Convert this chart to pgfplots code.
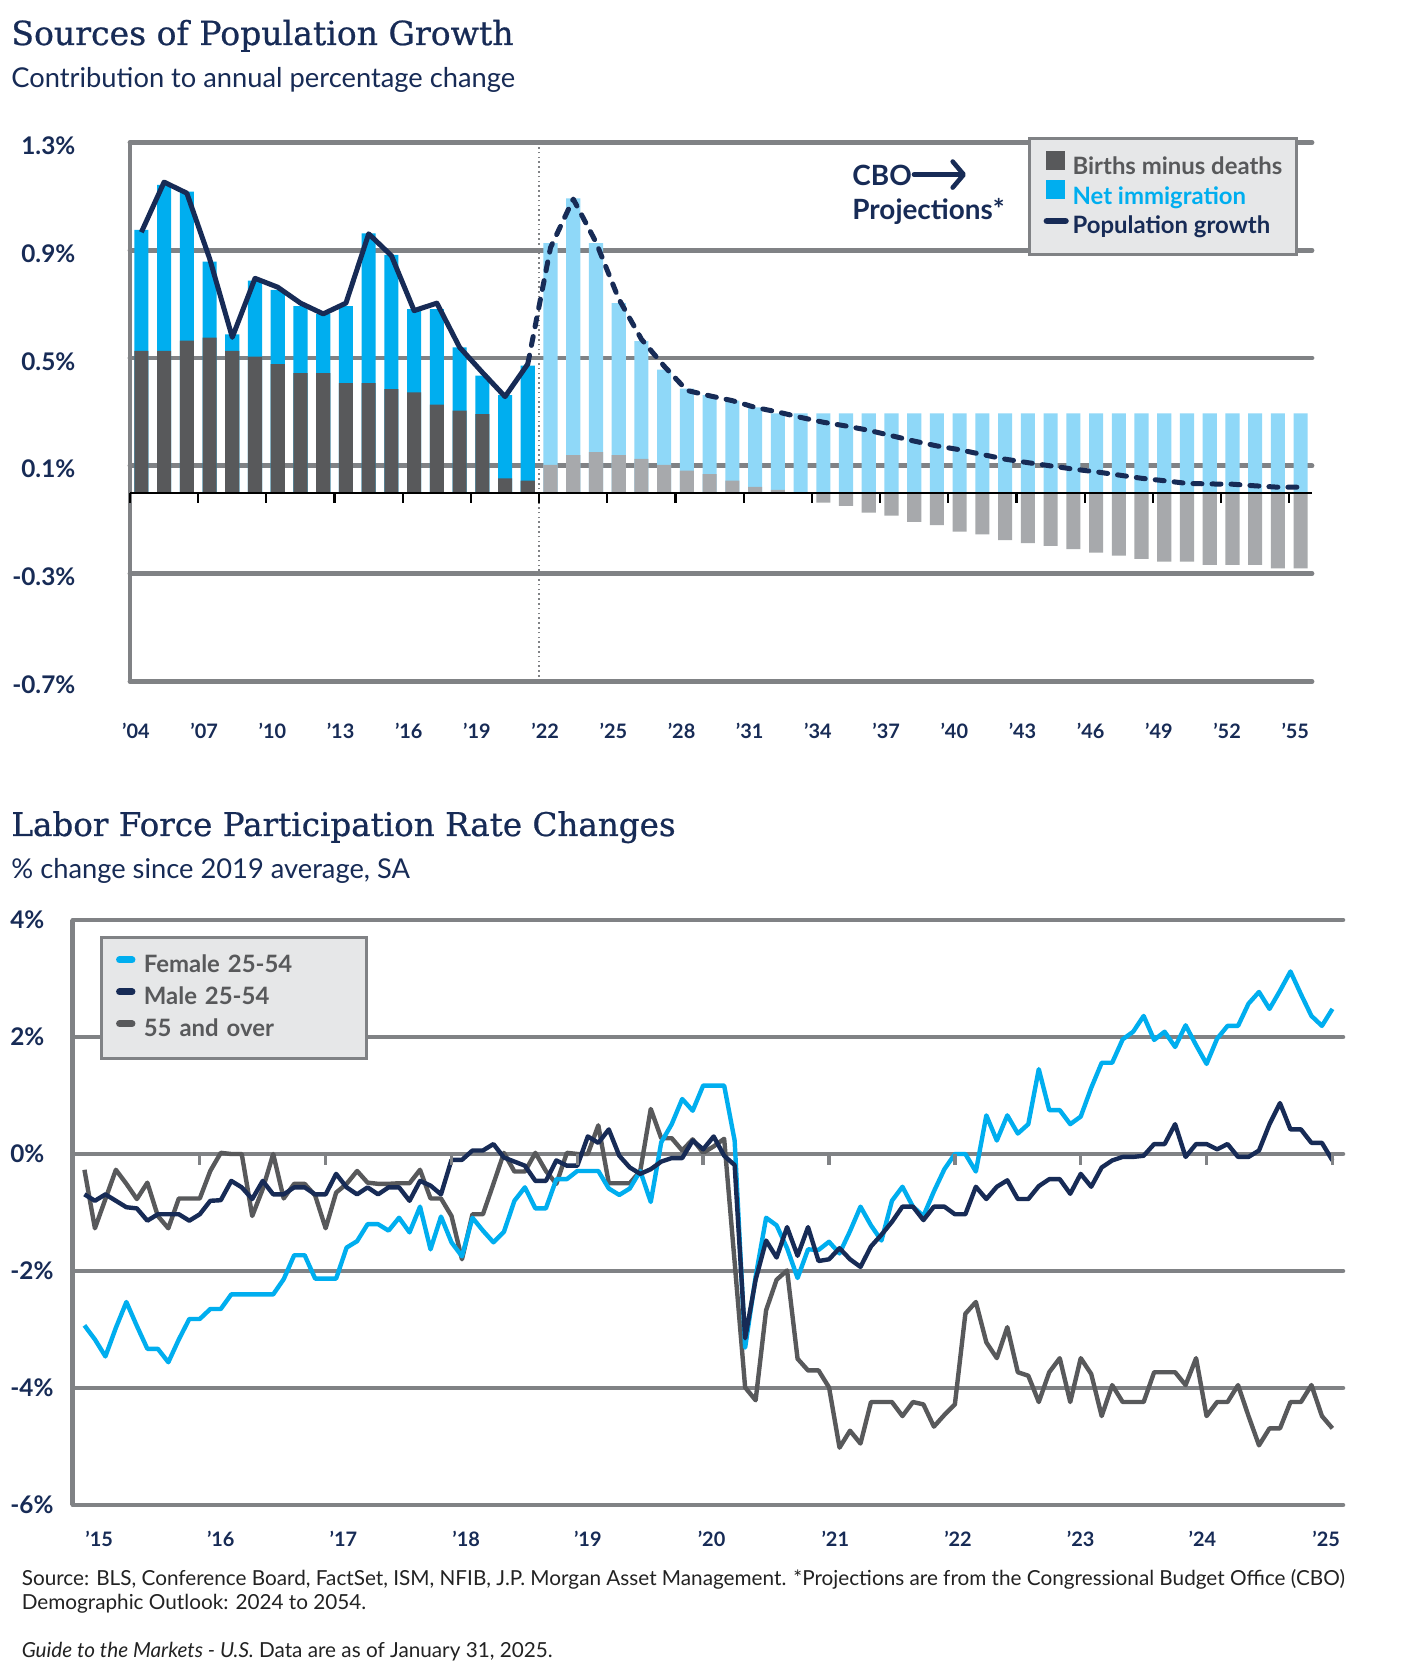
\documentclass[border=0pt]{standalone}
\usepackage{pgfplots}
\pgfplotsset{compat=1.18}
\usepackage{pgfplotstable}
\usetikzlibrary{arrows.meta}
\usepackage{fontspec}
\setmainfont{Lato}
\newfontfamily\titlefont[FakeBold=0.7]{DejaVu Serif}
\definecolor{navy}{HTML}{172B56}
\definecolor{jblue}{HTML}{00AEEF}
\definecolor{jlblue}{HTML}{8FD8F8}
\definecolor{jdgray}{HTML}{58595B}
\definecolor{jlgray}{HTML}{A7A9AC}
\definecolor{gridgray}{HTML}{808285}
\definecolor{legfill}{HTML}{E6E7E8}
\definecolor{foot}{HTML}{222222}

% historical: births minus deaths, total
\pgfplotstableread{
yr bmd tot
2004 0.527 0.976
2005 0.527 1.143
2006 0.565 1.118
2007 0.576 0.858
2008 0.527 0.588
2009 0.505 0.787
2010 0.478 0.753
2011 0.444 0.693
2012 0.444 0.664
2013 0.407 0.693
2014 0.407 0.963
2015 0.385 0.883
2016 0.373 0.682
2017 0.327 0.682
2018 0.305 0.540
2019 0.292 0.435
2020 0.054 0.363
2021 0.045 0.472
}\hist
% projections: births minus deaths, top of blue bar
\pgfplotstableread{
yr bmd blue
2022 0.104 0.927
2023 0.140 1.093
2024 0.151 0.927
2025 0.140 0.704
2026 0.126 0.563
2027 0.104 0.457
2028 0.082 0.387
2029 0.069 0.363
2030 0.045 0.342
2031 0.022 0.317
2032 0.011 0.295
2033 -0.003 0.295
2034 -0.036 0.295
2035 -0.048 0.295
2036 -0.073 0.295
2037 -0.085 0.295
2038 -0.108 0.295
2039 -0.120 0.295
2040 -0.144 0.295
2041 -0.154 0.295
2042 -0.175 0.295
2043 -0.187 0.295
2044 -0.197 0.295
2045 -0.209 0.295
2046 -0.222 0.295
2047 -0.233 0.295
2048 -0.245 0.295
2049 -0.255 0.295
2050 -0.255 0.295
2051 -0.267 0.295
2052 -0.267 0.295
2053 -0.267 0.295
2054 -0.280 0.295
2055 -0.280 0.295
}\proj
\pgfplotstableread{
yr pg
2004 0.967
2005 1.153
2006 1.112
2007 0.870
2008 0.577
2009 0.796
2010 0.763
2011 0.704
2012 0.664
2013 0.704
2014 0.961
2015 0.880
2016 0.676
2017 0.704
2018 0.540
2019 0.447
2020 0.357
2021 0.478
}\pghist
\pgfplotstableread{
yr pg
2021 0.478
2022 0.910
2023 1.090
2024 0.930
2025 0.720
2026 0.570
2027 0.470
2028 0.380
2029 0.360
2030 0.342
2031 0.317
2032 0.300
2033 0.280
2034 0.262
2035 0.248
2036 0.232
2037 0.212
2038 0.192
2039 0.174
2040 0.160
2041 0.142
2042 0.125
2043 0.112
2044 0.100
2045 0.088
2046 0.078
2047 0.066
2048 0.054
2049 0.045
2050 0.035
2051 0.033
2052 0.032
2053 0.026
2054 0.021
2055 0.021
}\pgproj
% labor force participation, month index 0 = Jan 2015
\pgfplotstableread{
m f ma o
0 -2.93 -0.69 -0.27
1 -3.17 -0.80 -1.27
2 -3.46 -0.69 -0.77
3 -2.97 -0.80 -0.27
4 -2.53 -0.91 -0.51
5 -2.94 -0.93 -0.77
6 -3.33 -1.14 -0.49
7 -3.33 -1.03 -1.06
8 -3.56 -1.03 -1.27
9 -3.17 -1.03 -0.76
10 -2.82 -1.14 -0.76
11 -2.82 -1.03 -0.76
12 -2.65 -0.80 -0.29
13 -2.65 -0.79 0.02
14 -2.40 -0.46 0.00
15 -2.40 -0.57 0.00
16 -2.40 -0.77 -1.06
17 -2.40 -0.46 -0.60
18 -2.40 -0.69 0.00
19 -2.14 -0.69 -0.76
20 -1.73 -0.57 -0.51
21 -1.73 -0.57 -0.51
22 -2.13 -0.69 -0.71
23 -2.13 -0.69 -1.27
24 -2.13 -0.34 -0.66
25 -1.60 -0.57 -0.51
26 -1.49 -0.69 -0.29
27 -1.20 -0.57 -0.49
28 -1.20 -0.69 -0.51
29 -1.31 -0.57 -0.51
30 -1.09 -0.57 -0.50
31 -1.34 -0.80 -0.50
32 -0.90 -0.46 -0.27
33 -1.63 -0.54 -0.76
34 -1.07 -0.69 -0.76
35 -1.51 -0.10 -1.06
36 -1.75 -0.10 -1.80
37 -1.09 0.06 -1.03
38 -1.31 0.06 -1.03
39 -1.51 0.17 -0.51
40 -1.33 -0.06 0.02
41 -0.80 -0.13 -0.30
42 -0.57 -0.20 -0.30
43 -0.93 -0.46 0.02
44 -0.93 -0.46 -0.29
45 -0.43 -0.11 -0.51
46 -0.43 -0.20 0.02
47 -0.29 -0.20 0.00
48 -0.29 0.30 0.00
49 -0.29 0.19 0.49
50 -0.59 0.42 -0.50
51 -0.70 -0.03 -0.50
52 -0.59 -0.23 -0.50
53 -0.29 -0.34 -0.29
54 -0.82 -0.26 0.77
55 0.20 -0.13 0.27
56 0.51 -0.07 0.27
57 0.94 -0.07 0.06
58 0.74 0.23 0.25
59 1.17 0.08 0.02
60 1.17 0.30 0.13
61 1.17 -0.03 0.26
62 0.23 -0.19 -1.85
63 -3.31 -3.15 -3.99
64 -2.10 -2.15 -4.21
65 -1.09 -1.48 -2.67
66 -1.22 -1.77 -2.15
67 -1.61 -1.25 -1.99
68 -2.12 -1.74 -3.50
69 -1.63 -1.25 -3.70
70 -1.64 -1.83 -3.70
71 -1.50 -1.80 -3.99
72 -1.70 -1.61 -5.02
73 -1.32 -1.80 -4.73
74 -0.90 -1.93 -4.95
75 -1.22 -1.58 -4.24
76 -1.48 -1.38 -4.24
77 -0.80 -1.16 -4.24
78 -0.56 -0.90 -4.48
79 -0.90 -0.90 -4.24
80 -1.06 -1.13 -4.28
81 -0.64 -0.90 -4.66
82 -0.26 -0.90 -4.46
83 0.00 -1.03 -4.28
84 0.00 -1.03 -2.73
85 -0.30 -0.56 -2.53
86 0.66 -0.77 -3.22
87 0.23 -0.56 -3.49
88 0.66 -0.45 -2.96
89 0.35 -0.77 -3.73
90 0.51 -0.77 -3.79
91 1.45 -0.55 -4.24
92 0.75 -0.43 -3.73
93 0.75 -0.43 -3.49
94 0.51 -0.68 -4.24
95 0.64 -0.34 -3.49
96 1.13 -0.56 -3.76
97 1.56 -0.23 -4.48
98 1.56 -0.11 -3.95
99 1.96 -0.05 -4.24
100 2.09 -0.05 -4.24
101 2.36 -0.03 -4.24
102 1.95 0.17 -3.73
103 2.09 0.17 -3.73
104 1.83 0.51 -3.73
105 2.20 -0.05 -3.95
106 1.86 0.17 -3.49
107 1.54 0.17 -4.48
108 1.97 0.08 -4.24
109 2.19 0.17 -4.24
110 2.19 -0.05 -3.95
111 2.57 -0.05 -4.48
112 2.77 0.06 -4.98
113 2.48 0.51 -4.69
114 2.79 0.87 -4.69
115 3.12 0.42 -4.24
116 2.73 0.42 -4.24
117 2.36 0.19 -3.95
118 2.19 0.19 -4.48
119 2.48 -0.11 -4.69
}\lfpr

\pgfplotsset{
  myaxis/.style={
    scale only axis, anchor=south west,
    axis x line*=bottom, axis y line*=left,
    x axis line style={draw=none},
    y axis line style={draw=gridgray, line width=2.4bp, -},
    tick style={draw=none}, major tick length=0pt,
    ymajorgrids,
    grid style={draw=gridgray, line width=2.4bp, line cap=round},
    yticklabel style={anchor=west, inner xsep=0pt, text=navy,
      font=\fontsize{12.2}{14}\selectfont\bfseries},
    xticklabel style={anchor=base, text=navy,
      font=\fontsize{10}{12}\selectfont\bfseries},
  },
}

\begin{document}
\begin{tikzpicture}
\fill[white] (0,0) rectangle (712.5bp,840bp);
\path[use as bounding box] (0,0) rectangle (712.5bp,840bp);

% ---------- titles ----------
\node[anchor=base west, inner sep=0pt, text=navy,
  font=\titlefont\fontsize{16.6}{19}\selectfont] at (5.5bp,817.5bp) {Sources of Population Growth};
\node[anchor=base west, inner sep=0pt, text=navy,
  font=\fontsize{13.7}{16}\selectfont] at (5.5bp,796bp) {Contribution to annual percentage change};
\node[anchor=base west, inner sep=0pt, text=navy,
  font=\titlefont\fontsize{16.35}{19}\selectfont] at (5.5bp,422bp) {Labor Force Participation Rate Changes};
\node[anchor=base west, inner sep=0pt, text=navy,
  font=\fontsize{13.7}{16}\selectfont] at (5.5bp,400.7bp) {\% change since 2019 average, SA};

% ---------- top chart ----------
\begin{axis}[myaxis,
  at={(65bp,499.25bp)}, width=591bp, height=269.5bp,
  xmin=2003.5, xmax=2055.5, ymin=-0.7, ymax=1.3,
  ytick={-0.7,-0.3,0.1,0.5,0.9,1.3},
  yticklabels={\llap{-}0.7\%,\llap{-}0.3\%,0.1\%,0.5\%,0.9\%,1.3\%},
  yticklabel style={xshift=-54.5bp, yshift=-1.6bp},
  xtick={2003.5,2006.5,2009.5,2012.5,2015.5,2018.5,2021.5,2024.5,2027.5,2030.5,2033.5,2036.5,2039.5,2042.5,2045.5,2048.5,2051.5,2054.5},
  xticklabels={’04,’07,’10,’13,’16,’19,’22,’25,’28,’31,’34,’37,’40,’43,’46,’49,’52,’55},
  xticklabel style={yshift=-28.75bp, xshift=3bp},
  extra x ticks={2021.5}, extra x tick labels={},
  extra x tick style={grid=major, major grid style={draw=gridgray, line width=0.8bp, line cap=butt, dash pattern=on 0.8bp off 1.6bp}},
  legend style={at={(axis description cs:0.7597,1.0102)}, anchor=north west,
    draw=gridgray, line width=1.6bp, fill=legfill, inner xsep=7bp, inner ysep=6.2bp,
    font=\fontsize{12}{14}\selectfont\bfseries, column sep=1.9bp, row sep=-1.6bp,
    nodes={inner xsep=0pt, inner ysep=1.3bp, text height=9bp, text depth=3bp}},
  legend cell align=left,
]
\addplot[ybar, bar width=0.62, bar shift=0pt, fill=jblue, draw=none, forget plot] table[x=yr, y=tot] {\hist};
\addplot[ybar, bar width=0.62, bar shift=0pt, fill=jdgray, draw=none, forget plot] table[x=yr, y=bmd] {\hist};
\addplot[ybar, bar width=0.62, bar shift=0pt, fill=jlblue, draw=none, forget plot] table[x=yr, y=blue] {\proj};
\addplot[ybar, bar width=0.62, bar shift=0pt, fill=jlgray, draw=none, forget plot] table[x=yr, y=bmd] {\proj};
\addplot[navy, line width=2.5bp, line join=round, mark=none, forget plot] table[x=yr, y=pg] {\pghist};
\addplot[navy, line width=2.5bp, line join=round, line cap=round, dash pattern=on 4.5bp off 5bp, mark=none, forget plot] table[x=yr, y=pg] {\pgproj};
\addlegendimage{legend image code/.code={\path[draw=none,fill=none] (0bp,-0.5bp) rectangle (9.5bp,9bp); \path[draw=none, fill=jdgray] (0bp,-0.5bp) rectangle (9.5bp,9bp);}}
\addlegendentry{\textcolor{jdgray}{Births minus deaths}}
\addlegendimage{legend image code/.code={\path[draw=none,fill=none] (0bp,-0.5bp) rectangle (9.5bp,9bp); \path[draw=none, fill=jblue] (0bp,-0.5bp) rectangle (9.5bp,9bp);}}
\addlegendentry{\textcolor{jblue}{Net immigration}}
\addlegendimage{legend image code/.code={\path[draw=none,fill=none] (0bp,-0.5bp) rectangle (9.5bp,9bp); \path[draw=navy, fill=none, solid, line width=3.4bp, line cap=round] (0.6bp,3.4bp) -- (9.8bp,3.4bp);}}
\addlegendentry{\textcolor{navy}{Population growth}}
\end{axis}
% zero line with ticks
\begin{axis}[
  at={(65bp,499.25bp)}, anchor=south west, scale only axis, width=591bp, height=269.5bp,
  xmin=2003.5, xmax=2055.5, ymin=-0.7, ymax=1.3,
  axis x line=middle, axis y line=none,
  x axis line style={-, black, line width=1.3bp},
  xtick={2003.5,2006.5,2009.5,2012.5,2015.5,2018.5,2021.5,2024.5,2027.5,2030.5,2033.5,2036.5,2039.5,2042.5,2045.5,2048.5,2051.5,2054.5},
  xticklabels={}, ytick=\empty,
  xtick align=outside, major tick length=5bp,
  xtick style={black, line width=1.1bp},
]
\end{axis}

\node[anchor=base west, inner sep=0pt, text=navy, font=\fontsize{14}{16}\selectfont\bfseries] at (426bp,747.3bp) {CBO};
\draw[navy, line width=2.3bp, line cap=round, -{Straight Barb[length=5.5bp, width=13bp, line width=2.3bp, round]}] (457bp,752.7bp) -- (483bp,752.7bp);
\node[anchor=base west, inner sep=0pt, text=navy, font=\fontsize{14}{16}\selectfont\bfseries] at (426bp,730.2bp) {Projections*};

% ---------- bottom chart ----------
\begin{axis}[myaxis,
  at={(36.45bp,87.5bp)}, width=635bp, height=292.5bp,
  xmin=-1.1, xmax=120, ymin=-6, ymax=4,
  ytick={-6,-4,-2,0,2,4},
  yticklabels={-6\%,-4\%,-2\%,0\%,2\%,4\%},
  yticklabel style={xshift=-31.45bp},
  xtick={1.4,13.0,24.7,36.4,48.0,59.8,71.6,83.3,95.0,106.6,118.4},
  xticklabels={’15,’16,’17,’18,’19,’20,’21,’22,’23,’24,’25},
  xticklabel style={yshift=-21bp},
  legend style={at={(axis description cs:0.021,0.973)}, anchor=north west,
    draw=gridgray, line width=1.5bp, fill=legfill, inner xsep=7.5bp, inner ysep=6.5bp,
    font=\fontsize{12}{14}\selectfont\bfseries, column sep=4.2bp, row sep=0pt,
    nodes={inner xsep=0pt, inner ysep=1.95bp, text height=9bp, text depth=3bp, text width=104bp, text=jdgray}},
  legend cell align=left,
]
\addplot[jdgray, line width=2.2bp, line join=round, mark=none, forget plot] table[x=m, y=o] {\lfpr};
\addplot[jblue, line width=2.2bp, line join=round, mark=none, forget plot] table[x=m, y=f] {\lfpr};
\addplot[navy, line width=2.2bp, line join=round, mark=none, forget plot] table[x=m, y=ma] {\lfpr};
\addlegendimage{legend image code/.code={\path[draw=none,fill=none] (0bp,0bp) rectangle (9.7bp,8bp); \path[draw=jblue, fill=none, line width=3.4bp, line cap=round] (1.7bp,3.2bp) -- (8bp,3.2bp);}}
\addlegendentry{Female 25-54}
\addlegendimage{legend image code/.code={\path[draw=none,fill=none] (0bp,0bp) rectangle (9.7bp,8bp); \path[draw=navy, fill=none, line width=3.4bp, line cap=round] (1.7bp,3.2bp) -- (8bp,3.2bp);}}
\addlegendentry{Male 25-54}
\addlegendimage{legend image code/.code={\path[draw=none,fill=none] (0bp,0bp) rectangle (9.7bp,8bp); \path[draw=jdgray, fill=none, line width=3.4bp, line cap=round] (1.7bp,3.2bp) -- (8bp,3.2bp);}}
\addlegendentry{55 and over}
\end{axis}
\begin{axis}[
  at={(36.45bp,87.5bp)}, anchor=south west, scale only axis, width=635bp, height=292.5bp,
  xmin=-1.1, xmax=120, ymin=-6, ymax=4,
  axis x line=middle, axis y line=none,
  x axis line style={draw=none},
  xtick={11,23,35,47,59,71,83,95,107,119},
  xticklabels={}, ytick=\empty,
  xtick align=outside, major tick length=5.5bp,
  xtick style={gridgray, line width=1.7bp},
]
\end{axis}

% ---------- footer ----------
\node[anchor=base west, inner sep=0pt, text=foot, font=\fontsize{10.4}{12}\selectfont] at (10.7bp,47.1bp) {Source: BLS, Conference Board, FactSet, ISM, NFIB, J.P. Morgan Asset Management. *Projections are from the Congressional Budget Office (CBO)};
\node[anchor=base west, inner sep=0pt, text=foot, font=\fontsize{10.4}{12}\selectfont] at (10.7bp,35.5bp) {Demographic Outlook: 2024 to 2054.};
\node[anchor=base west, inner sep=0pt, text=foot, font=\fontsize{10.4}{12}\selectfont] at (10.7bp,11.3bp) {\textit{Guide to the Markets - U.S.} Data are as of January 31, 2025.};
\end{tikzpicture}
\end{document}
